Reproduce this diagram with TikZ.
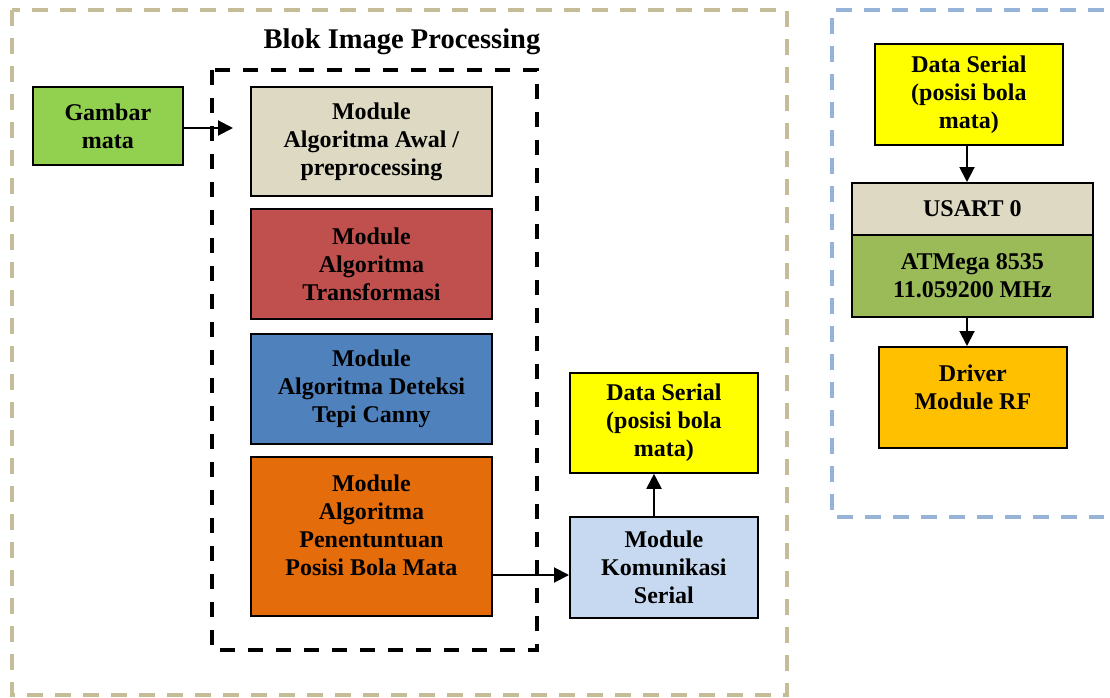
\documentclass[tikz,border=0pt]{standalone}
\usepackage{fontspec}
\setmainfont{Liberation Serif}
\usetikzlibrary{arrows.meta}
\definecolor{tanline}{HTML}{C4BD97}
\definecolor{blueline}{HTML}{95B3D7}
\definecolor{cbeige}{HTML}{DDD9C3}
\definecolor{cred}{HTML}{C0504D}
\definecolor{cblue}{HTML}{4F81BD}
\definecolor{corange}{HTML}{E46C0A}
\definecolor{cgreen}{HTML}{92D050}
\definecolor{cyel}{HTML}{FFFF00}
\definecolor{clblue}{HTML}{C6D9F1}
\definecolor{colive}{HTML}{9BBB59}
\definecolor{cgold}{HTML}{FFC000}
\tikzset{
  blk/.style={draw=black, line width=1.8pt, inner sep=0pt, anchor=north west},
  txt/.style={align=center, font=\fontsize{24}{28}\selectfont\bfseries, inner sep=0pt},
  arr/.style={line width=2pt, -{Triangle[length=15pt,width=15pt]}},
  frame/.style={line width=3.6pt, dash pattern=on 16pt off 12pt},
}
% name, x1, y1, x2, y2, fill
\newcommand{\mybox}[6]{\node[blk, fill=#6, minimum width={(#4-#2)*1pt}, minimum height={(#5-#3)*1pt}] (#1) at (#2,#3) {};}
\begin{document}
\begin{tikzpicture}[x=1pt,y=-1pt]
\useasboundingbox (0,0) rectangle (1110,698);
% frames
\draw[frame, draw=tanline] (12,10) rectangle (787,695);
\draw[frame, draw=blueline] (1104,10) -- (832,10) -- (832,517) -- (1104,517);
\draw[frame, draw=black, line width=3.8pt, dash pattern=on 15pt off 13pt] (212,70) rectangle (537,650);
\node[txt, font=\fontsize{28.5}{32}\selectfont\bfseries] (title) at (402,42) {Blok Image Processing};
% boxes
\mybox{gam}{32}{86}{182}{164}{cgreen}
\node[txt] (gamt) at (gam.center) {Gambar\\mata};
\mybox{m1}{250}{86}{491}{195}{cbeige}
\node[txt] (m1t) at (m1.center) {Module\\Algoritma Awal /\\preprocessing};
\mybox{m2}{250}{208}{491}{318}{cred}
\node[txt] (m2t) at (m2.center) {Module\\Algoritma\\Transformasi};
\mybox{m3}{250}{333}{491}{443}{cblue}
\node[txt] (m3t) at (m3.center) {Module\\Algoritma Deteksi\\Tepi Canny};
\mybox{m4}{250}{456}{491}{615}{corange}
\node[txt] (m4t) at ([yshift=11pt]m4.center) {Module\\Algoritma\\Penentuntuan\\Posisi Bola Mata};
\mybox{ds1}{569}{372}{757}{472}{cyel}
\node[txt] (ds1t) at (ds1.center) {Data Serial\\(posisi bola\\mata)};
\mybox{kom}{569}{516}{757}{617}{clblue}
\node[txt] (komt) at (kom.center) {Module\\Komunikasi\\Serial};
\mybox{ds2}{874}{43}{1062}{144}{cyel}
\node[txt] (ds2t) at (ds2.center) {Data Serial\\(posisi bola\\mata)};
\mybox{us}{851}{182}{1092}{234}{cbeige}
\node[txt] (ust) at (us.center) {USART 0};
\mybox{atm}{851}{234}{1092}{316}{colive}
\node[txt] (atmt) at (atm.center) {ATMega 8535\\11.059200 MHz};
\mybox{drv}{878}{346}{1066}{447}{cgold}
\node[txt] (drvt) at ([yshift=10pt]drv.center) {Driver\\Module RF};
% connectors
\coordinate (gtip) at (233,128);
\draw[arr] (gam.east |- gtip) -- (gtip);
\coordinate (ky) at (0,575);
\draw[arr] (m4.east |- ky) -- (kom.west |- ky);
\coordinate (ax) at (654,0);
\draw[arr] (kom.north -| ax) -- (ds1.south -| ax);
\coordinate (rx) at (967,0);
\draw[arr] (ds2.south -| rx) -- (us.north -| rx);
\draw[arr] (atm.south -| rx) -- (drv.north -| rx);
\end{tikzpicture}
\end{document}
